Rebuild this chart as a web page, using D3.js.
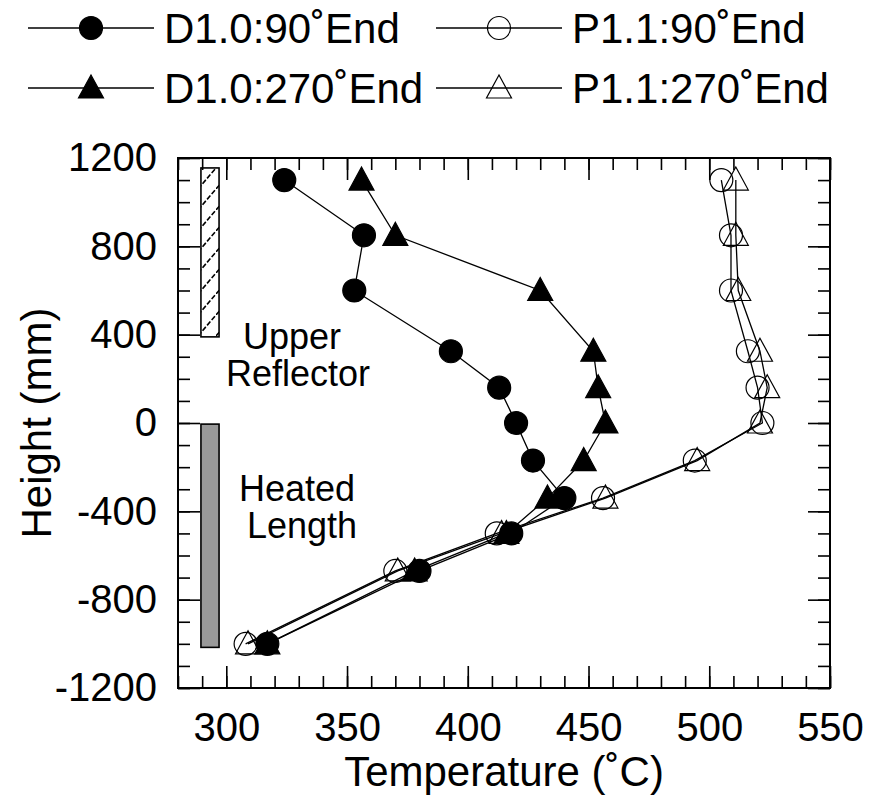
<!DOCTYPE html>
<html>
<head>
<meta charset="utf-8">
<script src="https://cdn.jsdelivr.net/npm/d3@7"></script>
<style>
  html, body { margin: 0; padding: 0; background: #fff; }
  svg { display: block; font-family: "Liberation Sans", Arial, Helvetica, sans-serif; }
</style>
</head>
<body>
<svg id="chart" width="870" height="810"></svg>
<script>
// Axial temperature profiles along the rod, by orientation and test
const heights = [1100, 850, 600, 325, 160, 0, -170, -340, -500, -670, -1000];
const d10_90  = [324, 357, 353, 393, 413, 420, 427, 440, 418, 380, 317];
const d10_270 = [356, 370, 430, 452, 454, 457, 448, 433, 416, 378, 317];
const p11_90  = [505, 509, 509, 516, 520, 522, 494, 456, 412, 370, 308];
const p11_270 = [511, 511, 512, 521, 524, 521, 495, 457, 414, 371, 309];

const seriesNames = ["D1.0:90˚End", "D1.0:270˚End", "P1.1:90˚End", "P1.1:270˚End"];
const seriesShapes = ["circle", "triangle", "circle", "triangle"];
const seriesFilled = [true, true, false, false];

const xTicks = [300, 350, 400, 450, 500, 550];
const yTicks = [-1200, -800, -400, 0, 400, 800, 1200];

// Zones marked beside the axis: [tempFrom, tempTo, heightFrom, heightTo]
const reflectorZone = [289.5, 297, 390, 1155];
const heatedZone = [289.5, 297, -1016, -5];

const plot = { left: 178, top: 158, right: 830, bottom: 688 };

const svg = d3.select("#chart");
const x = d3.scaleLinear().domain([280, 550]).range([plot.left, plot.right]);
const y = d3.scaleLinear().domain([-1200, 1200]).range([plot.bottom, plot.top]);

const TICK_FS = 40, TITLE_FS = 42, LEGEND_FS = 42, NOTE_FS = 36;
const fmt = d => String(d);

// hatch for the reflector zone
const defs = svg.append("defs");
const pat = defs.append("pattern")
  .attr("id", "hatch").attr("patternUnits", "userSpaceOnUse")
  .attr("width", 18).attr("height", 21);
pat.append("rect").attr("width", 18).attr("height", 21).attr("fill", "#fff");
pat.append("path").attr("d", "M0,21 L18,0")
  .attr("stroke", "#000").attr("stroke-width", 1.6)
  .attr("stroke-dasharray", "5,2");

// zone bars
function zoneRect(z, fill) {
  svg.append("rect")
    .attr("x", x(z[0])).attr("width", x(z[1]) - x(z[0]))
    .attr("y", y(z[3])).attr("height", y(z[2]) - y(z[3]))
    .attr("fill", fill).attr("stroke", "#000").attr("stroke-width", 1.6);
}
zoneRect(reflectorZone, "url(#hatch)");
zoneRect(heatedZone, "#999");

// annotations
const ann = svg.append("g").attr("font-size", NOTE_FS).attr("text-anchor", "middle").attr("fill", "#000");
ann.append("text").attr("x", 292).attr("y", 349).text("Upper");
ann.append("text").attr("x", 298).attr("y", 386).text("Reflector");
ann.append("text").attr("x", 297).attr("y", 501).text("Heated");
ann.append("text").attr("x", 302).attr("y", 538).text("Length");

// axes: major & minor ticks on all sides, pointing inward
function addAxis(axis, transform) {
  const g = svg.append("g").attr("transform", transform).call(axis);
  g.select(".domain").remove();
  g.selectAll(".tick line").attr("stroke", "#000").attr("stroke-width", 1.6);
  return g;
}
const xMinor = d3.range(280, 551, 10);
const yMinor = d3.range(-1200, 1201, 100);
addAxis(d3.axisBottom(x).tickValues(xMinor).tickSize(-12).tickFormat(""), `translate(0,${plot.bottom})`);
addAxis(d3.axisTop(x).tickValues(xMinor).tickSize(-12).tickFormat(""), `translate(0,${plot.top})`);
addAxis(d3.axisLeft(y).tickValues(yMinor).tickSize(-12).tickFormat(""), `translate(${plot.left},0)`);
addAxis(d3.axisRight(y).tickValues(yMinor).tickSize(-12).tickFormat(""), `translate(${plot.right},0)`);
addAxis(d3.axisTop(x).tickValues(xTicks).tickSize(-22).tickFormat(""), `translate(0,${plot.top})`);
addAxis(d3.axisRight(y).tickValues(yTicks).tickSize(-22).tickFormat(""), `translate(${plot.right},0)`);
const xb = addAxis(d3.axisBottom(x).tickValues(xTicks).tickSize(-22).tickPadding(25).tickFormat(fmt), `translate(0,${plot.bottom})`);
const yl = addAxis(d3.axisLeft(y).tickValues(yTicks).tickSize(-22).tickPadding(21).tickFormat(fmt), `translate(${plot.left},0)`);
[xb, yl].forEach(g => g.selectAll("text")
  .attr("font-size", TICK_FS).attr("fill", "#000")
  .attr("font-family", "Liberation Sans, Arial, sans-serif"));

// frame
svg.append("rect")
  .attr("x", plot.left).attr("y", plot.top)
  .attr("width", plot.right - plot.left).attr("height", plot.bottom - plot.top)
  .attr("fill", "none").attr("stroke", "#000").attr("stroke-width", 2);

// axis titles
svg.append("text").attr("x", (plot.left + plot.right) / 2).attr("y", 786)
  .attr("text-anchor", "middle").attr("font-size", TITLE_FS).text("Temperature (˚C)");
svg.append("text").attr("transform", `translate(51,${(plot.top + plot.bottom) / 2}) rotate(-90)`)
  .attr("text-anchor", "middle").attr("font-size", TITLE_FS).text("Height (mm)");

// markers
const R = 11.5;
function marker(g, shape, filled, cx, cy) {
  if (shape === "circle") {
    g.append("circle").attr("cx", cx).attr("cy", cy).attr("r", R)
      .attr("fill", filled ? "#000" : "none").attr("stroke", "#000").attr("stroke-width", 1.2);
  } else {
    const w = 12.5, hTop = 13, hBot = 10;
    g.append("path")
      .attr("d", `M${cx},${cy - hTop} L${cx + w},${cy + hBot} L${cx - w},${cy + hBot} Z`)
      .attr("fill", filled ? "#000" : "none").attr("stroke", "#000").attr("stroke-width", 1.2);
  }
}

const allSeries = [d10_90, d10_270, p11_90, p11_270];
const line = d3.line().x(d => x(d[0])).y(d => y(d[1]));
[2, 3, 0, 1].forEach(i => {
  const pts = allSeries[i].map((t, k) => [t, heights[k]]);
  const g = svg.append("g");
  g.append("path").datum(pts).attr("d", line)
    .attr("fill", "none").attr("stroke", "#000").attr("stroke-width", 1.3);
  pts.forEach(p => marker(g, seriesShapes[i], seriesFilled[i], x(p[0]), y(p[1])));
});

// legend
const legendPos = [
  { lx: 28, ly: 28 }, { lx: 28, ly: 88 },
  { lx: 436, ly: 28 }, { lx: 436, ly: 88 }
];
seriesNames.forEach((name, i) => {
  const p = legendPos[i];
  const g = svg.append("g");
  g.append("line").attr("x1", p.lx).attr("x2", p.lx + 126)
    .attr("y1", p.ly).attr("y2", p.ly).attr("stroke", "#000").attr("stroke-width", 1.3);
  marker(g, seriesShapes[i], seriesFilled[i], p.lx + 63, p.ly);
  g.append("text").attr("x", p.lx + 136).attr("y", p.ly + 15)
    .attr("font-size", LEGEND_FS).text(name);
});
</script>
</body>
</html>
